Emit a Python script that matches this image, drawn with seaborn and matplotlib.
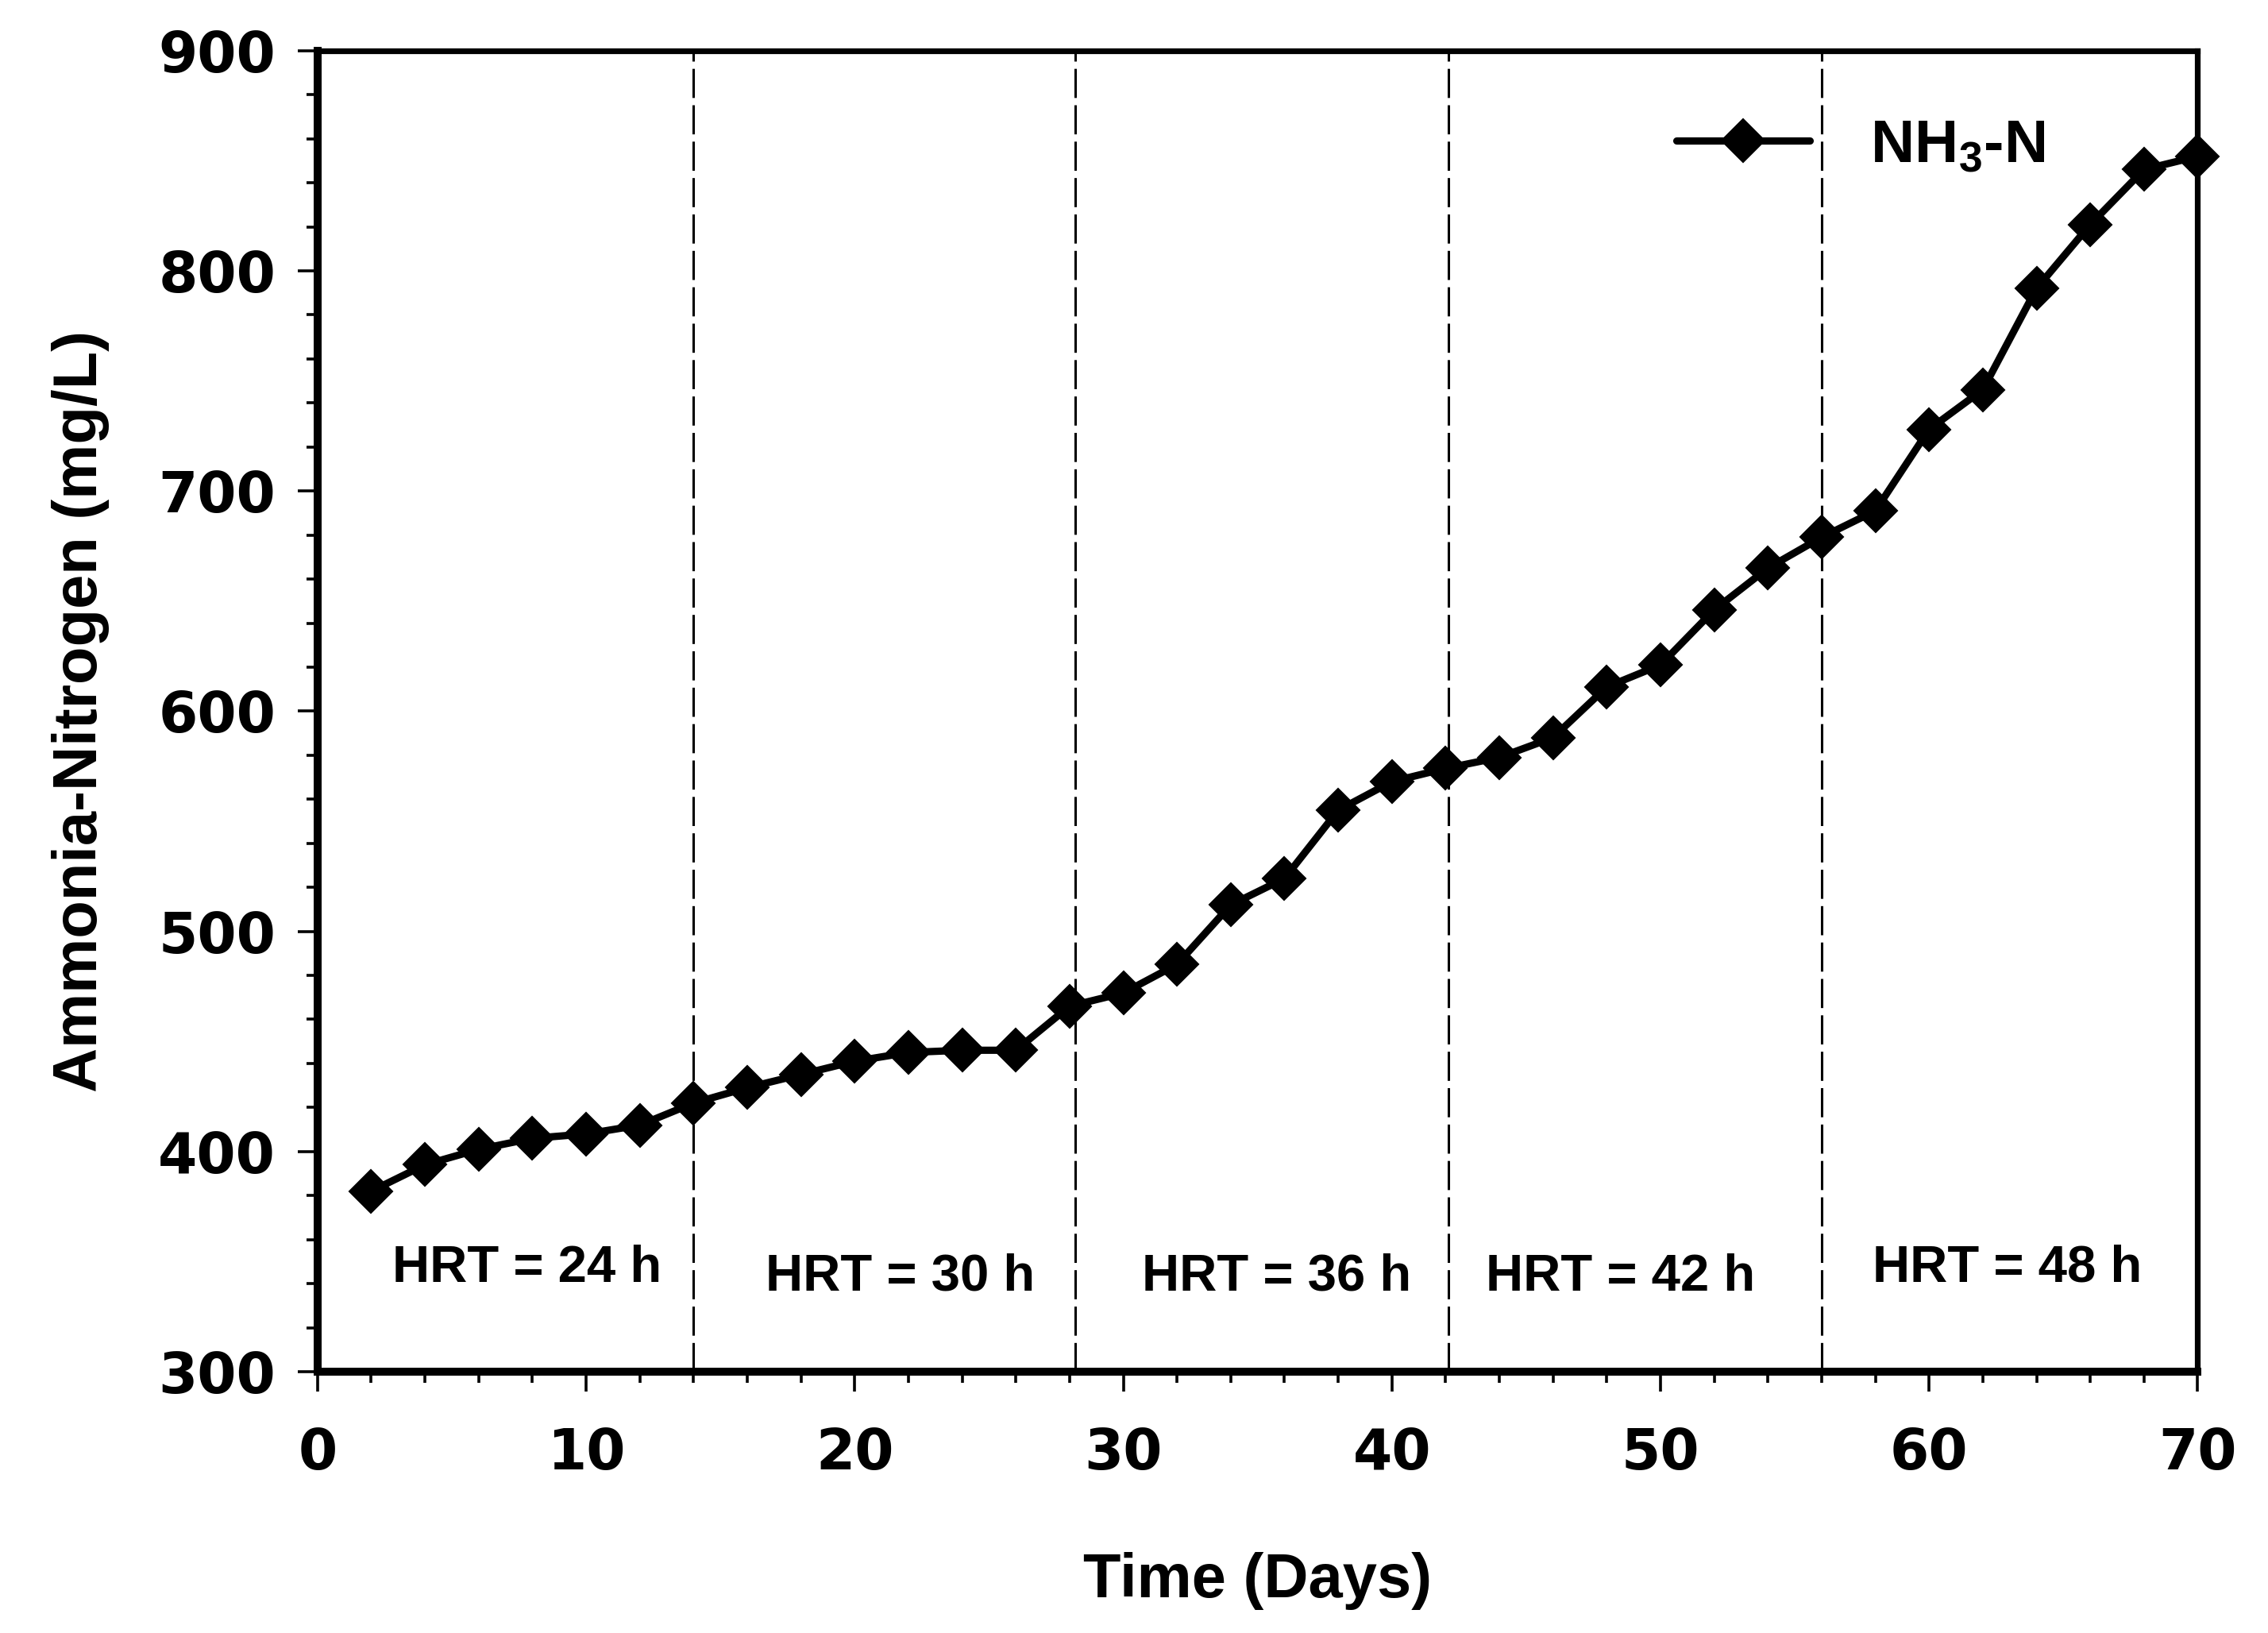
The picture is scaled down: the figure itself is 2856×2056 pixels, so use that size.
import matplotlib
matplotlib.use('Agg')
import matplotlib.pyplot as plt
import seaborn as sns
import pandas as pd
from matplotlib.ticker import MultipleLocator

# Ammonia-nitrogen over time
days = [2, 4, 6, 8, 10, 12, 14, 16, 18, 20, 22, 24, 26, 28, 30, 32, 34, 36,
        38, 40, 42, 44, 46, 48, 50, 52, 54, 56, 58, 60, 62, 64, 66, 68, 70]
nh3_n = [382, 394, 401, 406, 408, 412, 422, 429, 435, 441, 445, 446, 446,
         466, 472, 485, 512, 524, 555, 568, 574, 579, 588, 611, 621, 646,
         665, 679, 691, 728, 746, 792, 821, 846, 852]

# HRT phase boundaries and labels
phase_bounds = [14, 28.2, 42.1, 56]
hrt_labels = ['HRT = 24 h', 'HRT = 30 h', 'HRT = 36 h', 'HRT = 42 h', 'HRT = 48 h']
hrt_x = [7.8, 21.7, 35.7, 48.5, 62.9]
hrt_y = [347, 343, 343, 343, 347]

df = pd.DataFrame({'Day': days, 'NH3-N': nh3_n})

sns.set_style('white')
plt.rcParams['font.family'] = ['Liberation Sans', 'DejaVu Sans']
plt.rcParams['font.weight'] = 'bold'
plt.rcParams['text.color'] = 'black'
plt.rcParams['axes.labelcolor'] = 'black'
plt.rcParams['xtick.color'] = 'black'
plt.rcParams['ytick.color'] = 'black'
plt.rcParams['mathtext.fontset'] = 'custom'
plt.rcParams['mathtext.rm'] = 'Liberation Sans:bold'
plt.rcParams['mathtext.default'] = 'rm'

fig = plt.figure(figsize=(14.28, 10.28), dpi=200)
ax = fig.add_axes([0.14, 0.16, 0.829, 0.809])

for xb in phase_bounds:
    ax.axvline(xb, color='black', lw=1.1, ls=(0, (12, 3)), zorder=1)

sns.lineplot(data=df, x='Day', y='NH3-N', ax=ax, color='black', lw=3.3,
             marker='D', markersize=14, markeredgecolor='black',
             markerfacecolor='black', label='NH$_3$-N', zorder=3,
             clip_on=False)

for lab, xt, yt in zip(hrt_labels, hrt_x, hrt_y):
    ax.text(xt, yt, lab, ha='center', va='center', fontsize=23.5,
            fontweight='bold')

ax.set_xlim(0, 70)
ax.set_ylim(300, 900)
ax.xaxis.set_major_locator(MultipleLocator(10))
ax.xaxis.set_minor_locator(MultipleLocator(2))
ax.yaxis.set_major_locator(MultipleLocator(100))
ax.yaxis.set_minor_locator(MultipleLocator(20))
ax.tick_params(which='major', direction='out', length=9, width=1.3,
               labelsize=25.5, pad=10, bottom=True, left=True)
ax.tick_params(axis='x', which='major', pad=16)
ax.tick_params(which='minor', direction='out', length=5, width=1.3,
               bottom=True, left=True)
for lbl in ax.get_xticklabels() + ax.get_yticklabels():
    lbl.set_fontweight('bold')
    lbl.set_fontfamily('DejaVu Sans')

ax.set_xlabel('Time (Days)', fontsize=28, fontweight='bold', labelpad=32)
ax.set_ylabel('Ammonia-Nitrogen (mg/L)', fontsize=28, fontweight='bold',
              labelpad=22)

for side in ['left', 'bottom']:
    ax.spines[side].set_linewidth(3.6)
for side in ['top', 'right']:
    ax.spines[side].set_linewidth(2.6)
for sp in ax.spines.values():
    sp.set_color('black')

leg = ax.legend(loc='upper right', bbox_to_anchor=(0.948, 0.99), frameon=False,
                fontsize=27.5, handlelength=2.2, handletextpad=1.0,
                markerscale=1.0)
for t in leg.get_texts():
    t.set_fontweight('bold')

fig.savefig('out.png', dpi=200)
